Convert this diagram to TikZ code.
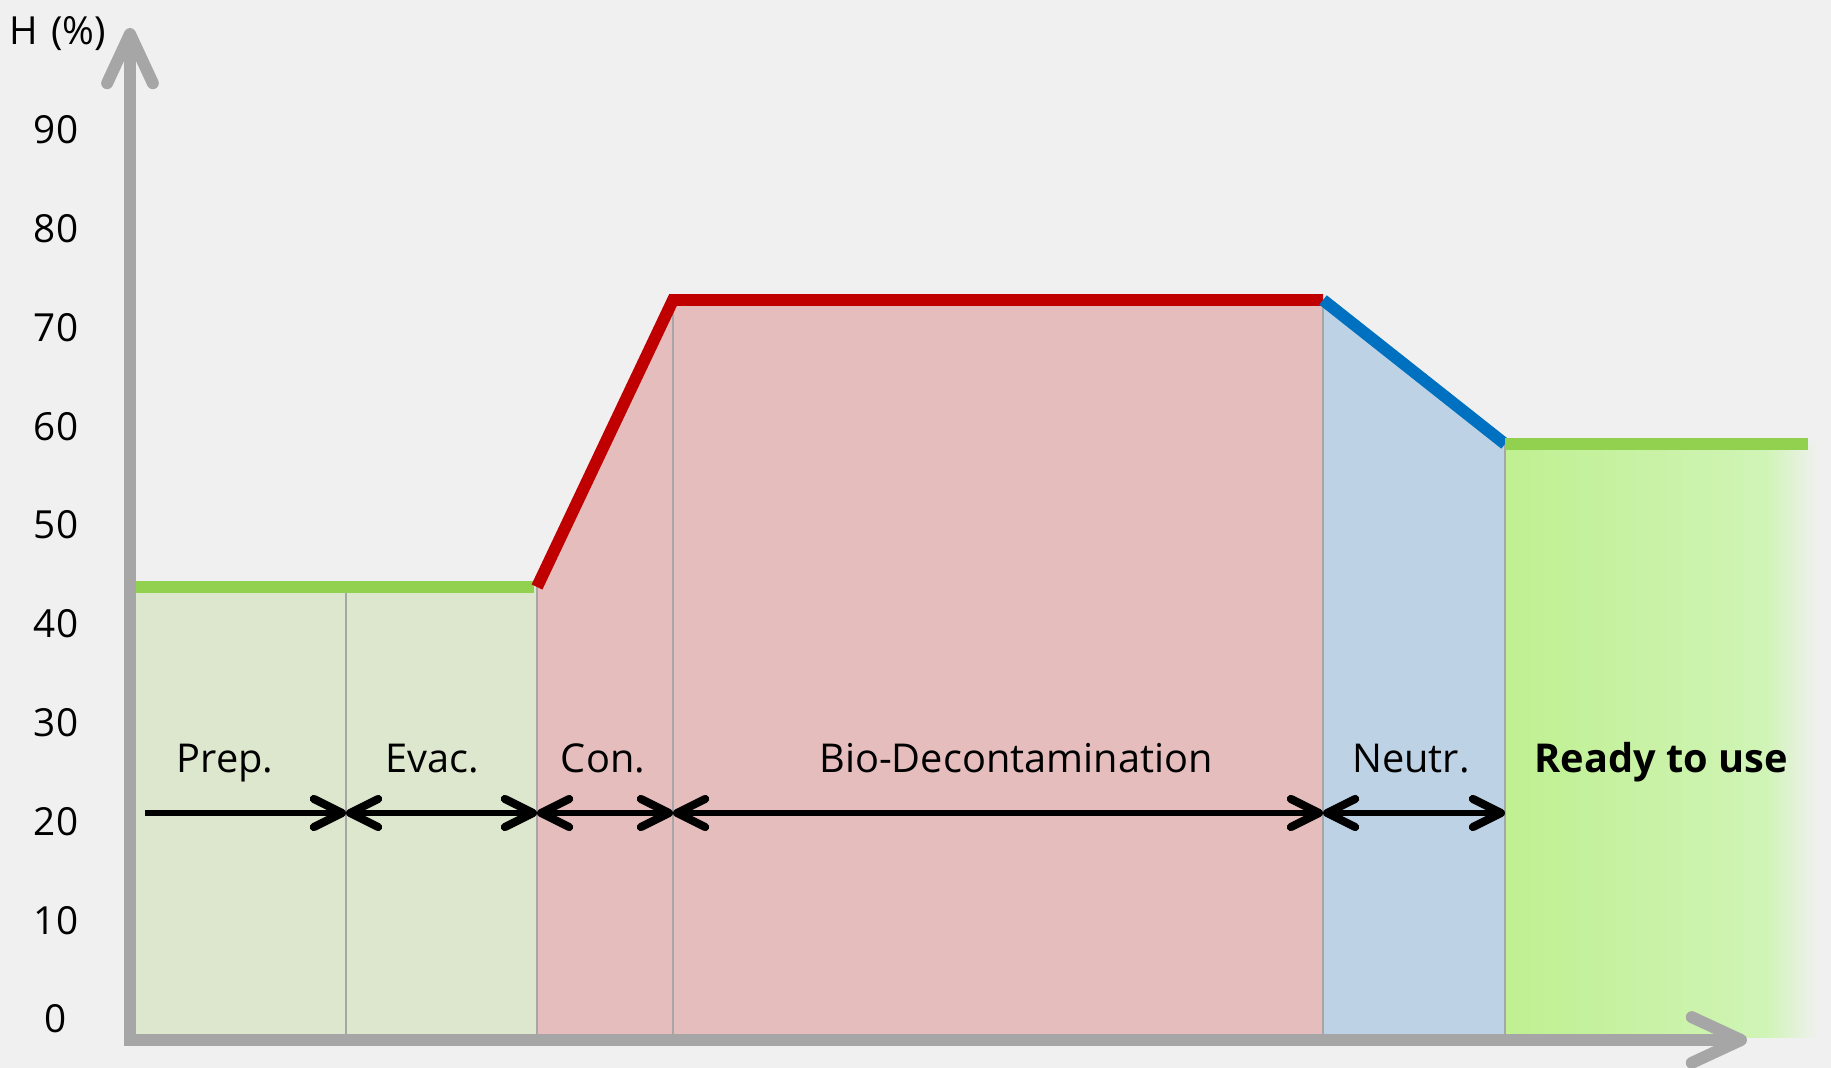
\documentclass[tikz,border=0pt]{standalone}
\usepackage{fontspec}
\setmainfont{Open Sans}
\usetikzlibrary{arrows.meta}
\definecolor{bgc}{RGB}{240,240,240}
\definecolor{axisgray}{RGB}{166,166,166}
\definecolor{prepfill}{RGB}{220,231,205}
\definecolor{decfill}{RGB}{229,189,189}
\definecolor{neufill}{RGB}{189,211,229}
\definecolor{readyL}{RGB}{191,240,145}
\definecolor{readyM}{RGB}{208,244,182}
\definecolor{okgreen}{RGB}{146,208,80}
\definecolor{hotred}{RGB}{192,0,0}
\definecolor{coolblue}{RGB}{0,112,192}
\pgfdeclarehorizontalshading{readyfade}{100bp}{color(0bp)=(readyL); color(25bp)=(readyL); color(65bp)=(readyM); color(73bp)=(bgc); color(100bp)=(bgc)}

\begin{document}
\begin{tikzpicture}[x=0.01cm, y=-0.01cm,
    level/.style={line width=3.4pt},
    divider/.style={draw=gray!70, line width=0.4pt},
    axis/.style={axisgray, line width=3.4pt, {Straight Barb[length=14pt,width=13pt,round]}-{Straight Barb[length=14pt,width=13pt,round]}},
    phase/.style={black, line width=1.6pt, >={Straight Barb[length=8pt,width=8pt,round,line width=2.3pt]}},
    tick/.style={font=\fontsize{11}{13}\selectfont},
    lbl/.style={anchor=base, font=\fontsize{11.3}{14}\selectfont}]
    \useasboundingbox (0,0) rectangle (1831,1068);
    \fill[bgc] (0,0) rectangle (1831,1068);
    \fill[prepfill] (130,587) rectangle (537,1040);
    \fill[decfill] (537,587) -- (673,300) -- (1323,300) -- (1323,1040) -- (537,1040) -- cycle;
    \fill[neufill] (1323,300) -- (1505,444) -- (1505,1040) -- (1323,1040) -- cycle;
    \shade[shading=readyfade] (1505,444) rectangle (1831,1037);
    \draw[divider] (346,587) -- (346,1040);
    \draw[divider] (537,587) -- (537,1040);
    \draw[divider] (673,300) -- (673,1040);
    \draw[divider] (1323,300) -- (1323,1040);
    \draw[divider] (1505,444) -- (1505,1040);
    \draw[level, okgreen] (130,587) -- (534,587);
    \draw[level, hotred] (537,587) -- (673,300) -- (1323,300);
    \draw[level, coolblue] (1323,300) -- (1505,444);
    \draw[level, okgreen] (1505,444) -- (1808,444);
    \coordinate (O) at (130,1040);
    \coordinate (ytip) at (130,28);
    \coordinate (xtip) at (1747,1040);
    \draw[axis] (ytip) -- (O) -- (xtip);
    \node[tick] (hlabel) at (58,34) {H\,\,(\%)};
    \foreach \v [count=\i from 0] in {0,10,...,90}
        \node[tick] (tick\v) at (56,1019-98.8*\i) {\v};
    \coordinate (p0) at (145,813);
    \coordinate (p1) at (346,813);
    \coordinate (p2) at (537,813);
    \coordinate (p3) at (673,813);
    \coordinate (p4) at (1323,813);
    \coordinate (p5) at (1505,813);
    \draw[phase, ->] (p0) -- (p1);
    \draw[phase, <->] (p1) -- (p2);
    \draw[phase, <->] (p2) -- (p3);
    \draw[phase, <->] (p3) -- (p4);
    \draw[phase, <->] (p4) -- (p5);
    \node[lbl] (prep) at (225,773) {Prep.};
    \node[lbl] (evac) at (432,773) {Evac.};
    \node[lbl] (con) at (603,773) {Con.};
    \node[lbl] (bio) at (1016,773) {Bio-Decontamination};
    \node[lbl] (neutr) at (1411,773) {Neutr.};
    \node[lbl, font=\fontsize{11.3}{14}\selectfont\bfseries] (ready) at (1661,773) {Ready to use};
\end{tikzpicture}
\end{document}
